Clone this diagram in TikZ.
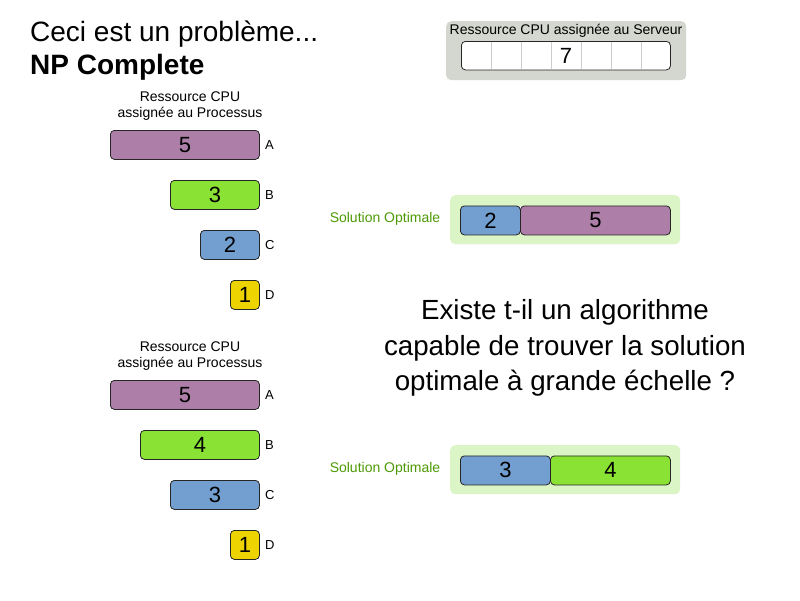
\documentclass[tikz,border=0pt]{standalone}
\usepackage{fontspec}
\setmainfont{Liberation Sans}
\definecolor{plum}{HTML}{AD7FA8}
\definecolor{cham}{HTML}{8AE234}
\definecolor{sky}{HTML}{729FCF}
\definecolor{butter}{HTML}{EDD400}
\definecolor{alu}{HTML}{D3D7CF}
\definecolor{solbg}{HTML}{DCF5C6}
\definecolor{soltxt}{HTML}{4E9A06}
\tikzset{
  bar/.style={draw=black!85, line width=0.8pt, rounded corners=4pt, minimum height=29pt, inner sep=0pt, anchor=north west, font=\fontsize{22}{24}\selectfont},
  lbl/.style={font=\fontsize{13}{14}\selectfont, anchor=west, inner sep=0pt},
  hdr/.style={font=\fontsize{14}{16}\selectfont, align=center, inner sep=0pt},
  soltext/.style={font=\fontsize{14}{14}\selectfont, text=soltxt, inner sep=0pt},
  solframe/.style={fill=solbg, rounded corners=5pt, minimum width=230pt, minimum height=49pt, anchor=north west, inner sep=0pt},
}
\begin{document}
\begin{tikzpicture}[x=1pt,y=-1pt]
\useasboundingbox[fill=white] (0,0) rectangle (800,600);
% title
\node[anchor=base west, inner sep=0pt, font=\fontsize{28}{30}\selectfont] (t1) at (30,41) {Ceci est un problème...};
\node[anchor=base west, inner sep=0pt, font=\fontsize{28}{30}\selectfont\bfseries] (t2) at (30,74) {NP Complete};
% server
\node[fill=alu, rounded corners=5pt, minimum width=240pt, minimum height=59pt, anchor=north west, inner sep=0pt] (srv) at (446,21) {};
\node[font=\fontsize{14}{14}\selectfont, inner sep=0pt] (srvt) at (566,30.5) {Ressource CPU assignée au Serveur};
\node[draw=black!85, line width=0.8pt, fill=white, rounded corners=4pt, minimum width=209pt, minimum height=28.5pt, anchor=north west, inner sep=0pt] (cap) at (461,41) {};
\foreach \x in {491,521,551,581,611,641} \draw[black!20, line width=0.8pt] (\x,41.5) -- (\x,69);
\node[font=\fontsize{22}{24}\selectfont, inner sep=0pt] (seven) at (566,55.5) {7};
% group 1
\node[hdr] (h1) at (190,106) {Ressource CPU\\assignée au Processus};
\node[bar, fill=plum, minimum width=149pt] (a1) at (110,130) {5};
\node[bar, fill=cham, minimum width=89pt] (b1) at (170,180) {3};
\node[bar, fill=sky, minimum width=59pt] (c1) at (200,230) {2};
\node[bar, fill=butter, minimum width=29pt] (d1) at (230,280) {1};
\node[lbl] (la1) at (265,145.5) {A};
\node[lbl] (lb1) at (265,195.5) {B};
\node[lbl] (lc1) at (265,245.5) {C};
\node[lbl] (ld1) at (265,295.5) {D};
% group 2
\node[hdr] (h2) at (190,356) {Ressource CPU\\assignée au Processus};
\node[bar, fill=plum, minimum width=149pt] (a2) at (110,380) {5};
\node[bar, fill=cham, minimum width=119pt] (b2) at (140,430) {4};
\node[bar, fill=sky, minimum width=89pt] (c2) at (170,480) {3};
\node[bar, fill=butter, minimum width=29pt] (d2) at (230,530) {1};
\node[lbl] (la2) at (265,395.5) {A};
\node[lbl] (lb2) at (265,445.5) {B};
\node[lbl] (lc2) at (265,495.5) {C};
\node[lbl] (ld2) at (265,545.5) {D};
% solution 1
\node[soltext] (s1) at (385,219) {Solution Optimale};
\node[solframe] (f1) at (450,195) {};
\fill[white] (516,205.5) rectangle (524,234);
\node[bar, fill=sky, minimum width=60pt] (s1c) at (460,205.5) {2};
\node[bar, fill=plum, minimum width=150pt] (s1a) at (520,205.5) {5};
% solution 2
\node[soltext] (s2) at (385,469) {Solution Optimale};
\node[solframe] (f2) at (450,445) {};
\fill[white] (546,455.5) rectangle (554,484);
\node[bar, fill=sky, minimum width=90pt] (s2c) at (460,455.5) {3};
\node[bar, fill=cham, minimum width=120pt] (s2b) at (550,455.5) {4};
% question
\node[font=\fontsize{27.7}{35.5}\selectfont, align=center, inner sep=0pt] (q) at (565,348) {Existe t-il un algorithme\\capable de trouver la solution\\optimale à grande échelle ?};
\end{tikzpicture}
\end{document}
